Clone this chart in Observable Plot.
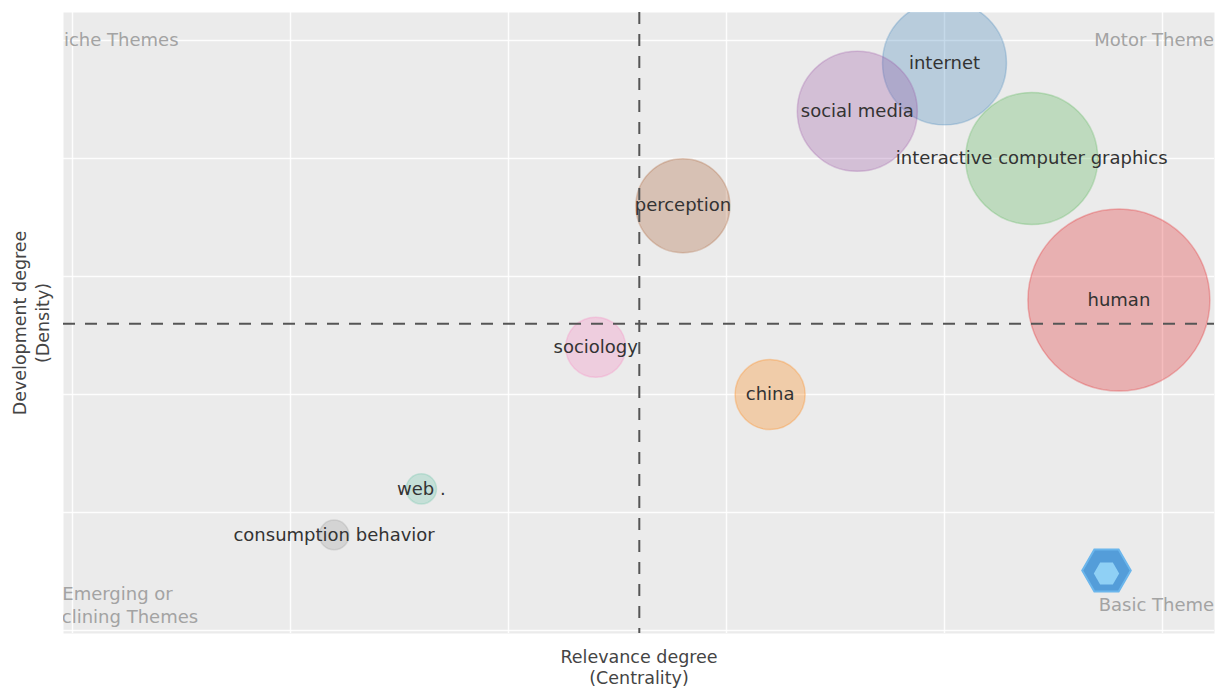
<!DOCTYPE html>
<html>
<head>
<meta charset="utf-8">
<script src="https://cdn.jsdelivr.net/npm/d3@7"></script>
<script src="https://cdn.jsdelivr.net/npm/@observablehq/plot@0.6"></script>
<style>
  html, body { margin: 0; padding: 0; background: white; }
  #chart svg { display: block; }
</style>
</head>
<body>
<div id="chart"></div>
<script>
// Themes and their values
const themes = ["internet", "social media", "interactive computer graphics", "human", "perception", "sociology", "china", "web .", "consumption behavior"];
const centrality = [4.0, 3.6, 4.4, 4.8, 2.8, 2.4, 3.2, 1.6, 1.2];
const density = [4.81, 4.4, 4.0, 2.8, 3.6, 2.4, 2.0, 1.2, 0.81];
const frequency = [384, 360, 436, 828, 221, 90, 123, 23, 22];
const palette = ["#377eb8", "#984ea3", "#4daf4a", "#e41a1c", "#a65628", "#f781bf", "#ff7f00", "#66c2a5", "#999999"];

const gridTicksX = [0, 1, 2, 3, 4, 5];
const gridTicksY = [0, 1, 2, 3, 4, 5];
const centralityRef = 2.6;
const densityRef = 2.6;

const xTitle = "Relevance degree\n(Centrality)";
const yTitle = "Development degree\n(Density)";

const data = themes.map((t, i) => ({theme: t, x: centrality[i], y: density[i], freq: frequency[i]}));

const font = "DejaVu Sans, Verdana, sans-serif";
const quadColor = "#a3a3a3";
const quadSize = 18;

const chart = Plot.plot({
  width: 1230,
  height: 689,
  marginLeft: 63,
  marginRight: 16,
  marginTop: 12,
  marginBottom: 56,
  x: {domain: [-0.0413, 5.2385], axis: null},
  y: {domain: [-0.0254, 5.237], axis: null},
  r: {type: "sqrt", domain: [0, 828], range: [0, 91]},
  color: {domain: themes, range: palette},
  style: {fontFamily: font, background: "white"},
  marks: [
    Plot.frame({fill: "#ebebeb", stroke: null}),
    Plot.gridX(gridTicksX, {stroke: "white", strokeOpacity: 0.9, strokeWidth: 1.5}),
    Plot.gridY(gridTicksY, {stroke: "white", strokeOpacity: 0.9, strokeWidth: 1.5}),
    Plot.dot(data, {x: "x", y: "y", r: "freq", fill: "theme", fillOpacity: 0.28, stroke: "theme", strokeOpacity: 0.28, strokeWidth: 1.5, clip: true}),
    Plot.ruleX([centralityRef], {stroke: "#555", strokeWidth: 2, strokeDasharray: "12,10"}),
    Plot.ruleY([densityRef], {stroke: "#555", strokeWidth: 2, strokeDasharray: "12,10"}),
    Plot.text(data, {x: "x", y: "y", text: "theme", fill: "#333", fontSize: 18, clip: true}),
    // quadrant labels
    Plot.text(["Niche Themes"], {frameAnchor: "top-left", dx: -13, dy: 28, textAnchor: "start", lineAnchor: "middle", fill: quadColor, fontSize: quadSize, clip: true}),
    Plot.text(["Motor Themes"], {frameAnchor: "top-right", dx: 9, dy: 28, textAnchor: "end", lineAnchor: "middle", fill: quadColor, fontSize: quadSize, clip: true}),
    Plot.text(["Emerging or\nDeclining Themes"], {frameAnchor: "bottom-left", dx: 54, dy: -29.5, textAnchor: "middle", lineAnchor: "middle", lineHeight: 1.28, fill: quadColor, fontSize: quadSize, clip: true}),
    Plot.text(["Basic Themes"], {frameAnchor: "bottom-right", dx: 9, dy: -28, textAnchor: "end", lineAnchor: "middle", fill: quadColor, fontSize: quadSize, clip: true}),
    // logo
    Plot.dot([0], {frameAnchor: "bottom-right", dx: -108, dy: -63, symbol: "hexagon", r: 21, rotate: 90, fill: "#3a8fd6", fillOpacity: 0.85, stroke: "#6bb6ec", strokeWidth: 2}),
    Plot.dot([0], {frameAnchor: "bottom-right", dx: -108, dy: -60, symbol: "hexagon", r: 11, rotate: 90, fill: "#8fd0f5", stroke: "none"}),
    // axis titles
    Plot.text([xTitle], {frameAnchor: "bottom", dy: 33, textAnchor: "middle", lineAnchor: "middle", lineHeight: 1.25, fill: "#444", fontSize: 17.5}),
    Plot.text([yTitle], {frameAnchor: "left", dx: -33, rotate: -90, textAnchor: "middle", lineAnchor: "middle", lineHeight: 1.3, fill: "#444", fontSize: 17.5})
  ]
});

document.getElementById("chart").appendChild(chart);
</script>
</body>
</html>
